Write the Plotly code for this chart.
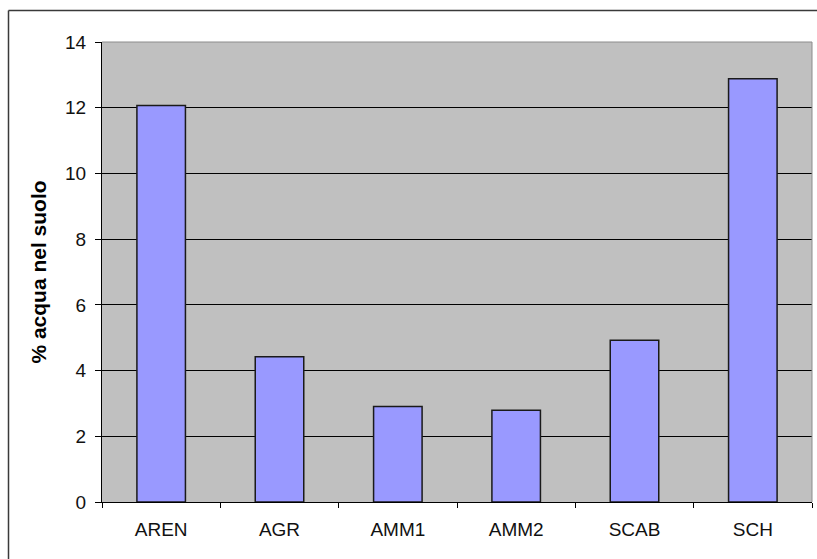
import plotly.graph_objects as go

# Soil water content by soil type
categories = ["AREN", "AGR", "AMM1", "AMM2", "SCAB", "SCH"]
water_pct = [12.07, 4.42, 2.91, 2.79, 4.92, 12.88]
y_ticks = [0, 2, 4, 6, 8, 10, 12, 14]

W, H = 817, 559
M_L, M_R, M_T, M_B = 102, 5, 42, 57
plot_w = W - M_L - M_R
plot_h = H - M_T - M_B

def px_to_paper_x(px):
    return (px - M_L) / plot_w

def px_to_paper_y(py):
    return (H - M_B - py) / plot_h

fig = go.Figure(
    go.Bar(
        x=categories,
        y=water_pct,
        marker=dict(color="#9999FF", line=dict(color="#1a1a1a", width=1.5)),
        width=0.41,
    )
)

font_family = "Liberation Sans, Arial, sans-serif"

fig.update_layout(
    width=W,
    height=H,
    margin=dict(l=M_L, r=M_R, t=M_T, b=M_B),
    paper_bgcolor="white",
    plot_bgcolor="#C0C0C0",
    showlegend=False,
    font=dict(family=font_family, color="black", size=18),
    xaxis=dict(
        type="category",
        showgrid=False,
        showline=True,
        linecolor="black",
        linewidth=1,
        ticks="outside",
        tickson="boundaries",
        ticklen=5,
        tickcolor="black",
        ticklabelstandoff=10,
        tickfont=dict(size=19, color="#111111"),
        range=[-0.5, 5.5],
    ),
    yaxis=dict(
        range=[0, 14],
        tickvals=y_ticks,
        ticktext=[str(v) for v in y_ticks],
        showgrid=True,
        gridcolor="black",
        gridwidth=1,
        zeroline=False,
        showline=True,
        linecolor="black",
        linewidth=1,
        ticks="outside",
        ticklen=6,
        tickcolor="black",
        ticklabelstandoff=5,
        tickfont=dict(size=19, color="#111111"),
        title=dict(
            text="<b>% acqua nel suolo</b>",
            font=dict(size=21, color="black"),
            standoff=12,
        ),
    ),
    shapes=[
        # grey frame on top and right of the plotting area
        dict(type="line", xref="paper", yref="paper", x0=0, x1=1, y0=1, y1=1,
             line=dict(color="#8c8c8c", width=1)),
        dict(type="line", xref="paper", yref="paper", x0=1, x1=1, y0=0, y1=1,
             line=dict(color="#8c8c8c", width=1)),
        # outer chart border (left and top edges)
        dict(type="line", xref="paper", yref="paper",
             x0=px_to_paper_x(8.5), x1=px_to_paper_x(8.5),
             y0=px_to_paper_y(10.5), y1=px_to_paper_y(H + 5),
             line=dict(color="#3a3a3a", width=1.5)),
        dict(type="line", xref="paper", yref="paper",
             x0=px_to_paper_x(8.5), x1=px_to_paper_x(W + 5),
             y0=px_to_paper_y(10.5), y1=px_to_paper_y(10.5),
             line=dict(color="#3a3a3a", width=1.5)),
    ],
)

fig.write_html("out.html")
